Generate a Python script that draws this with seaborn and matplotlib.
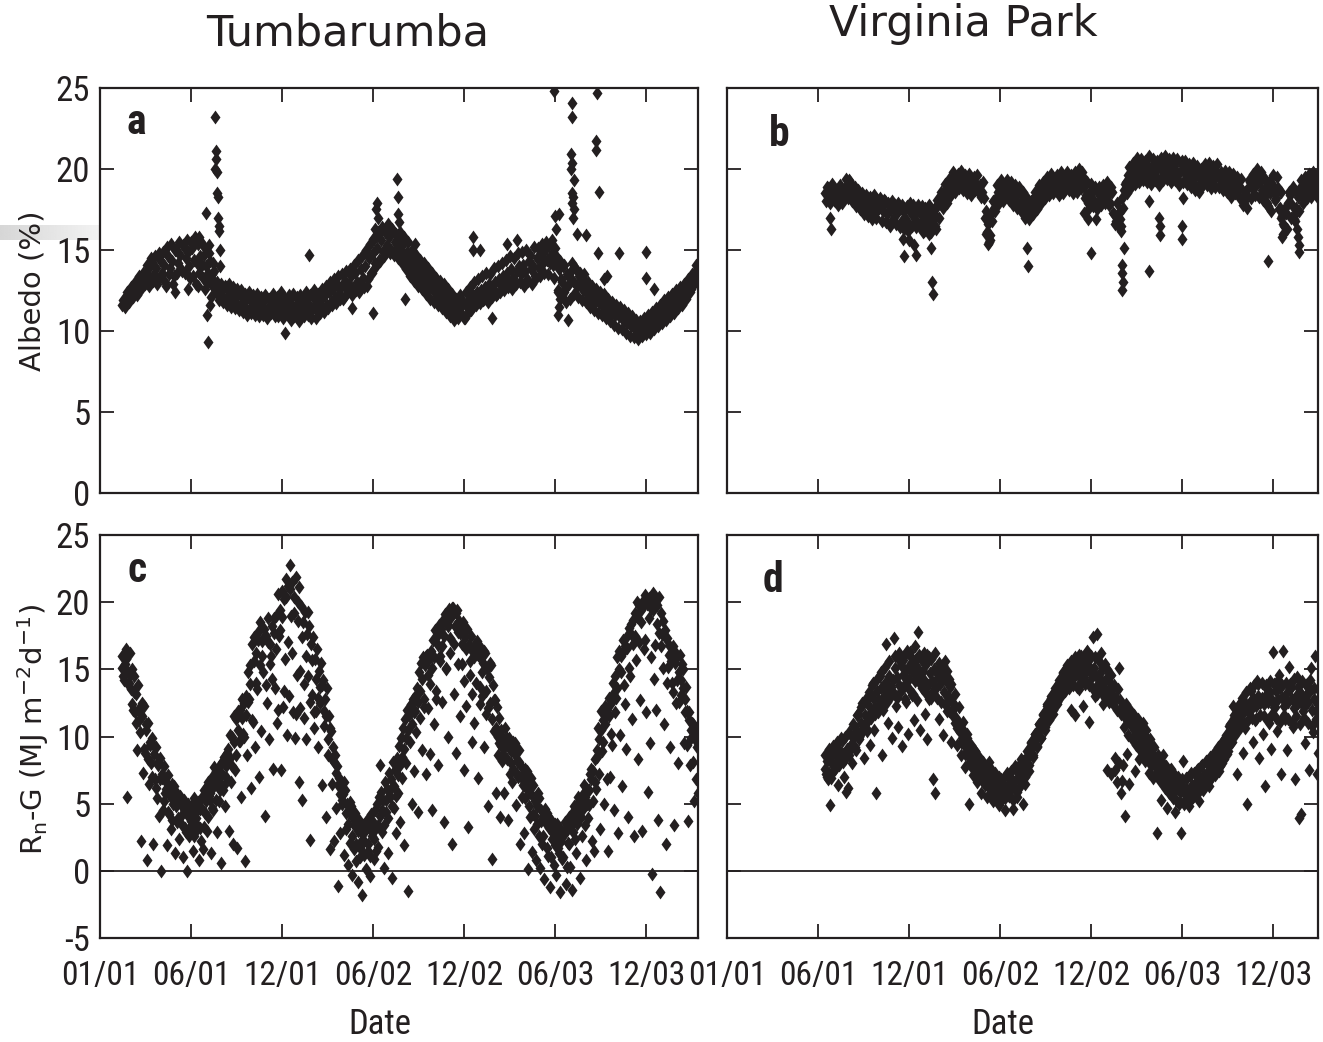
import numpy as np
import pandas as pd
import matplotlib
matplotlib.use("Agg")
import matplotlib.pyplot as plt
import seaborn as sns
from matplotlib import font_manager
from matplotlib.path import Path
from matplotlib.markers import MarkerStyle
from matplotlib.ticker import FixedLocator, FixedFormatter

# ---------------- data (days since 01/01/2001) ----------------
TICK_DAYS = [0, 182.5, 365, 547.5, 730, 912.5, 1095]
TICK_LABELS = ["01/01", "06/01", "12/01", "06/02", "12/02", "06/03", "12/03"]

# Panel a: Tumbarumba albedo (%), every 4 days from day 44, and a second reading offset by 2 days
a_start, a_step = 44, 4
a_band = [
    11.6, 11.9, 11.7, 12.3, 12.0, 12.6, 12.4, 12.9, 12.5, 13.1,
    12.8, 13.4, 13.0, 13.8, 13.3, 14.2, 13.5, 13.9, 13.2, 14.4,
    13.6, 14.1, 12.8, 14.6, 13.9, 14.3, 13.4, 15.0, 14.2, 14.7,
    13.7, 15.2, 14.5, 14.9, 13.3, 15.1, 14.4, 12.9, 15.4, 14.6,
    14.1, 14.7, 14.0, 13.6, 14.3, 13.2, 13.7, 12.4, 12.8, 12.1,
    12.5, 11.9, 12.7, 12.2, 11.8, 12.4, 12.0, 11.7, 12.3, 11.6,
    12.1, 11.5, 11.9, 12.2, 11.4, 11.8, 11.3, 12.0, 11.6, 11.2,
    11.7, 11.4, 12.1, 11.1, 11.6, 11.9, 11.3, 11.5, 10.9, 11.8,
    11.4, 11.0, 11.7, 11.2, 11.9, 11.5, 10.9, 11.6, 11.3, 11.8,
    11.1, 11.5, 12.0, 11.2, 11.6, 10.8, 11.4, 11.9, 11.3, 11.7,
    11.9, 11.4, 12.2, 11.6, 12.4, 11.8, 12.6, 12.1, 12.9, 12.3,
    12.7, 12.0, 13.1, 12.5, 12.9, 13.4, 12.6, 13.6, 13.0, 12.4,
    13.8, 13.3, 14.0, 12.8, 14.5, 13.6, 14.8, 14.2, 15.1, 14.4,
    15.6, 14.9, 16.1, 15.3, 15.8, 15.0, 16.2, 15.5, 15.2, 15.7,
    15.0, 15.4, 14.6, 14.9, 14.2, 14.7, 13.9, 14.3, 13.6, 13.9,
    13.3, 13.7, 12.9, 13.4, 12.7, 13.1, 12.5, 12.9, 12.2, 12.6,
    12.0, 12.4, 11.7, 12.1, 11.5, 11.9, 11.2, 11.6, 10.9, 11.4,
    11.1, 11.7, 10.8, 11.5, 11.9, 11.3, 12.2, 11.8, 12.4, 12.0,
    12.5, 11.9, 12.7, 12.2, 12.9, 12.4, 12.6, 13.0, 12.3, 13.2,
    12.8, 13.4, 13.0, 13.6, 13.1, 13.8, 13.3, 12.9, 13.7, 14.0,
    13.5, 14.1, 13.7, 13.2, 14.3, 13.8, 14.0, 13.4, 14.5, 13.9,
    14.6, 14.2, 15.0, 14.4, 15.3, 14.7, 14.1, 15.1, 14.5, 13.8,
    13.2, 14.0, 12.6, 13.5, 12.9, 13.7, 13.1, 13.9, 12.8, 13.4,
    12.9, 12.5, 13.1, 12.3, 12.7, 12.0, 12.4, 11.8, 12.2, 11.7,
    12.0, 11.5, 11.9, 11.3, 11.7, 11.1, 11.5, 11.0, 11.4, 10.9,
    11.2, 10.7, 11.0, 10.5, 10.9, 10.3, 10.7, 10.1, 10.5, 9.9,
    10.3, 9.8, 10.4, 10.0, 10.6, 10.2, 10.8, 10.4, 11.0, 10.6,
    11.2, 10.8, 11.4, 11.0, 11.6, 11.2, 11.8, 11.5, 12.0, 11.7,
    12.3, 11.9, 12.5, 12.2, 12.8, 12.6, 13.1, 13.5, 13.8,
]
a_start2 = 46
a_band2 = [
    11.9, 11.5, 12.4, 11.8, 12.7, 12.1, 13.0, 12.2, 13.4, 12.6,
    13.6, 12.9, 14.1, 12.8, 14.5, 13.1, 14.6, 12.9, 14.8, 13.4,
    14.9, 13.0, 15.2, 13.5, 15.4, 12.9, 15.0, 13.6, 15.5, 13.8,
    15.3, 13.6, 15.6, 14.0, 15.5, 13.4, 15.8, 14.2, 13.6, 15.5,
    13.3, 15.1, 13.0, 14.8, 12.9, 14.2, 12.6, 13.0, 11.9, 12.9,
    11.8, 12.8, 11.6, 12.9, 11.5, 12.7, 11.4, 12.6, 11.3, 12.5,
    11.2, 12.3, 11.0, 12.4, 11.1, 12.2, 11.0, 12.3, 10.9, 12.1,
    11.0, 12.2, 10.8, 12.0, 11.1, 12.3, 10.9, 12.1, 11.2, 12.4,
    10.8, 12.0, 11.1, 12.2, 10.7, 12.3, 11.0, 12.1, 10.6, 12.2,
    11.9, 10.9, 12.4, 11.0, 12.2, 11.3, 12.5, 10.8, 12.3, 11.1,
    12.6, 11.2, 12.8, 11.4, 13.0, 11.6, 13.2, 11.7, 13.4, 12.0,
    13.5, 12.1, 13.7, 12.4, 13.8, 12.2, 14.1, 12.5, 14.4, 12.9,
    14.6, 12.7, 15.0, 13.2, 15.4, 13.6, 15.7, 14.0, 16.1, 14.3,
    16.4, 14.6, 15.2, 16.6, 14.8, 16.3, 14.7, 16.0, 14.5, 16.1,
    14.2, 15.8, 13.8, 15.5, 13.4, 15.0, 13.1, 14.7, 12.8, 14.4,
    12.6, 14.2, 12.3, 13.9, 12.0, 13.6, 11.8, 13.3, 11.6, 13.1,
    11.4, 12.9, 11.2, 12.6, 10.9, 12.3, 10.7, 12.0, 10.8, 12.2,
    11.9, 10.8, 12.4, 11.1, 12.7, 11.4, 13.0, 11.6, 13.2, 11.7,
    13.4, 12.0, 13.6, 11.8, 13.5, 12.1, 13.9, 12.2, 14.0, 12.4,
    14.2, 12.5, 14.4, 12.7, 14.6, 12.6, 14.5, 12.9, 14.8, 13.0,
    14.9, 12.8, 15.0, 13.1, 14.7, 12.9, 15.2, 13.3, 15.1, 13.4,
    15.4, 13.6, 15.5, 13.5, 14.2, 15.6, 13.3, 14.6, 12.4, 14.3,
    12.2, 14.1, 11.8, 13.4, 12.0, 14.2, 12.3, 13.8, 12.1, 13.6,
    11.9, 13.5, 11.8, 13.0, 11.5, 12.8, 11.3, 12.6, 11.1, 12.4,
    11.0, 12.3, 10.8, 12.0, 10.6, 11.8, 10.4, 11.6, 10.2, 11.5,
    10.1, 11.3, 9.9, 11.1, 9.7, 10.9, 9.6, 10.7, 9.5, 10.6,
    9.7, 10.8, 9.8, 11.0, 9.9, 11.2, 10.1, 11.4, 10.3, 11.6,
    10.5, 11.9, 10.7, 12.1, 10.9, 12.3, 11.1, 12.5, 11.4, 12.7,
    11.6, 12.9, 12.0, 13.2, 12.4, 13.5, 12.9, 14.1,
]
a_out_days = [212, 214, 216, 218, 210, 220, 222, 224, 230, 232, 232, 230, 234, 234,
              236, 236, 238, 238, 240, 240, 198, 186, 176, 196, 150,
              371, 419, 505, 547, 556, 552, 560, 548, 596, 598, 598, 600, 612, 632,
              554, 558, 748, 762, 748, 786, 816, 836,
              910, 912, 920, 914, 946, 946, 944, 946, 944, 950, 946, 948, 946, 950,
              948, 956, 996, 994, 994, 1000, 918, 922, 920, 918, 938, 930, 926, 975,
              999, 1040, 1094, 1094, 1110, 1010, 1016, 1147]
a_out_vals = [17.3, 11.0, 9.3, 15.3, 12.6, 11.6, 12.1, 13.5, 23.2, 21.1, 20.6, 20.0, 19.8, 18.5,
              18.3, 17.0, 16.5, 16.2, 15.0, 14.0, 15.8, 15.5, 12.6, 12.8, 12.4,
              9.9, 14.7, 11.4, 11.1, 17.9, 16.3, 16.0, 15.7, 19.4, 18.3, 17.2, 16.7, 12.0, 15.4,
              17.5, 17.0, 15.8, 15.0, 15.0, 10.8, 15.4, 15.6,
              24.8, 17.1, 17.2, 16.3, 24.1, 23.2, 20.9, 20.4, 20.0, 19.3, 18.5, 18.3, 17.9, 17.5,
              17.0, 16.0, 24.7, 21.7, 21.2, 18.6, 12.5, 12.0, 11.5, 11.0, 10.7, 12.4, 13.0, 15.9,
              14.8, 14.8, 14.9, 13.3, 12.6, 13.2, 13.4, 12.2]

# Panel b: Virginia Park albedo (%), every 4 days from day 196, and a second reading offset by 2 days
b_start, b_step = 196, 4
b_band = [
    18.5, 18.9, 18.2, 18.7, 18.4, 18.0, 18.6, 18.3, 18.8, 18.1,
    18.5, 19.0, 19.3, 18.7, 18.4, 18.9, 18.2, 18.6, 17.9, 18.3,
    17.7, 18.2, 17.5, 18.0, 17.8, 17.3, 18.1, 17.6, 17.9, 17.4,
    18.0, 17.2, 17.7, 17.5, 16.9, 17.8, 17.3, 17.6, 16.7, 17.4,
    17.0, 17.7, 16.6, 17.3, 17.8, 16.9, 17.4, 16.5, 17.2, 17.6,
    16.8, 17.3, 16.4, 17.0, 16.7, 17.5, 17.1, 17.8, 18.0, 18.4,
    18.1, 18.7, 18.3, 19.0, 18.6, 19.3, 18.9, 19.7, 19.2, 19.5,
    19.0, 19.4, 18.8, 19.2, 18.9, 19.5, 19.1, 18.7, 19.0, 18.6,
    18.2, 17.4, 16.6, 15.9, 16.8, 17.6, 18.2, 18.6, 18.9, 18.4,
    18.8, 19.1, 18.5, 18.9, 18.3, 18.7, 18.0, 18.5, 17.8, 18.1,
    17.6, 17.3, 17.9, 17.4, 17.8, 18.2, 17.9, 18.5, 18.3, 18.8,
    18.6, 19.1, 18.8, 19.2, 18.9, 19.4, 19.1, 18.8, 19.3, 19.0,
    19.4, 19.1, 19.5, 19.2, 18.9, 19.3, 19.0, 19.6, 19.3, 19.8,
    18.9, 18.4, 17.9, 18.6, 18.2, 18.8, 17.8, 18.5, 18.1, 18.7,
    18.3, 18.9, 18.4, 17.9, 18.6, 17.2, 16.8, 16.5, 17.4, 18.2,
    18.7, 19.2, 19.6, 19.3, 20.0, 19.5, 20.3, 19.8, 19.4, 20.1,
    19.7, 20.4, 19.9, 19.5, 20.2, 19.6, 19.9, 20.3, 19.4, 20.0,
    19.7, 20.4, 19.8, 20.1, 19.5, 20.2, 19.9, 19.3, 19.8, 20.5,
    20.0, 19.6, 20.2, 19.4, 19.9, 19.1, 19.6, 18.9, 19.4, 19.9,
    19.5, 20.1, 19.6, 19.2, 19.8, 19.4, 19.9, 19.5, 19.0, 19.7,
    19.3, 19.7, 19.0, 19.5, 18.8, 19.3, 19.1, 18.7, 18.9, 18.2,
    17.9, 18.4, 18.8, 19.2, 18.9, 19.5, 19.0, 19.6, 19.2, 18.7,
    18.3, 18.9, 17.7, 18.5, 19.1, 18.6, 18.2, 18.8, 17.6, 17.1,
    16.5, 17.3, 17.9, 18.4, 17.8, 16.9, 17.6, 18.3, 18.8, 18.4,
    19.0, 18.6, 19.3, 18.8, 19.4, 18.9, 19.2, 18.7, 19.1,
]
b_start2 = 198
b_band2 = [
    18.0, 18.8, 17.9, 19.1, 18.1, 18.7, 17.8, 19.0, 17.9, 18.6,
    19.4, 18.2, 19.2, 18.0, 18.8, 17.7, 18.7, 17.5, 18.5, 17.2,
    18.4, 17.1, 18.3, 16.9, 18.4, 17.0, 17.6, 18.2, 16.8, 18.1,
    16.7, 17.9, 16.5, 18.0, 17.6, 16.6, 17.9, 16.4, 17.8, 16.3,
    17.6, 16.2, 17.9, 16.5, 17.2, 16.4, 17.8, 16.6, 17.7, 16.2,
    17.6, 16.3, 17.8, 16.1, 17.4, 16.5, 18.1, 17.0, 18.6, 17.6,
    19.1, 17.9, 19.4, 18.4, 19.8, 18.6, 19.5, 18.8, 19.9, 18.7,
    19.6, 18.5, 19.7, 18.4, 19.3, 18.7, 19.6, 18.5, 18.3, 19.2,
    17.0, 16.1, 15.5, 17.2, 18.0, 17.4, 19.0, 17.9, 19.3, 18.0,
    18.3, 19.3, 18.1, 19.2, 17.8, 19.0, 17.6, 18.9, 17.4, 18.6,
    17.0, 18.2, 16.9, 18.0, 17.2, 18.6, 17.5, 19.0, 17.9, 19.2,
    18.2, 19.5, 18.4, 19.7, 18.5, 18.7, 19.6, 18.4, 19.8, 18.5,
    18.8, 19.8, 18.7, 19.6, 18.5, 19.8, 18.6, 20.0, 18.8, 19.5,
    18.2, 19.2, 17.6, 19.1, 17.7, 18.9, 17.5, 18.9, 17.8, 19.0,
    17.9, 19.2, 17.8, 18.9, 17.3, 16.6, 17.9, 17.3, 16.2, 17.6,
    19.1, 18.5, 20.1, 18.9, 20.4, 19.1, 20.7, 19.2, 20.6, 19.3,
    20.5, 19.2, 20.8, 19.1, 20.6, 19.3, 20.5, 19.0, 20.7, 19.3,
    20.8, 19.4, 20.6, 19.2, 20.7, 19.3, 20.6, 19.0, 20.4, 19.2,
    20.5, 19.1, 20.3, 18.9, 20.4, 18.7, 20.2, 18.6, 20.0, 19.0,
    20.3, 19.0, 20.4, 18.8, 20.2, 18.9, 20.3, 18.9, 19.8, 18.7,
    19.9, 18.6, 19.8, 18.3, 19.7, 18.5, 19.5, 18.3, 19.4, 17.8,
    18.6, 17.6, 19.3, 18.2, 19.7, 18.4, 20.0, 18.3, 19.8, 18.1,
    19.4, 17.9, 19.2, 17.4, 19.6, 18.1, 19.5, 17.5, 18.6, 16.6,
    17.6, 16.3, 18.6, 17.0, 18.9, 16.8, 18.5, 17.4, 19.3, 17.9,
    19.5, 18.2, 19.7, 18.3, 19.8, 18.5, 19.6, 18.2,
]
b_out_days = [206, 208, 352, 354, 364, 374, 378, 406, 410, 412, 414, 400, 392, 420,
              520, 524, 528, 602, 604, 716, 724, 740, 730, 790, 796, 792, 792, 794, 792,
              788, 846, 846, 866, 868, 868, 912, 912, 914, 1036, 1084, 1082, 1110, 1114,
              1112, 1142, 1144, 1146, 1146, 1138]
b_out_vals = [17.0, 16.3, 15.7, 14.6, 15.6, 15.3, 14.7, 16.0, 15.1, 13.0, 12.3, 16.4, 16.1, 16.3,
              16.0, 15.4, 15.6, 15.1, 14.0, 17.3, 16.9, 16.9, 14.8, 16.5, 15.1, 14.1, 13.6, 13.0, 12.5,
              16.9, 18.0, 13.7, 17.0, 16.5, 15.9, 16.5, 15.7, 18.2, 18.0, 14.3, 17.8, 17.0, 16.0,
              15.8, 16.3, 15.8, 15.3, 14.9, 17.2]

# Panel c: Tumbarumba Rn-G (MJ m-2 d-1), three interleaved readings
c_start, c_step = 44, 4
c_upper = [
    16.0, 15.2, 15.8, 14.8, 16.2, 15.0, 14.5, 13.2, 13.8, 12.1,
    11.5, 12.3, 10.5, 11.0, 9.4, 9.9, 8.7, 9.2, 7.9, 8.4,
    7.2, 7.8, 6.6, 7.1, 6.0, 6.5, 5.6, 5.9, 5.2, 5.5,
    4.8, 5.3, 4.5, 5.0, 4.2, 4.9, 5.4, 4.4, 5.1, 4.6,
    5.5, 6.0, 5.2, 6.6, 5.8, 7.0, 6.3, 7.4, 6.7, 7.9,
    7.2, 8.5, 7.8, 9.1, 8.4, 10.0, 9.6, 11.3, 10.5, 12.0,
    11.4, 12.5, 13.0, 14.8, 15.3, 16.9, 17.4, 16.2, 17.8, 18.5,
    17.1, 18.0, 17.5, 18.8, 16.9, 18.2, 17.7, 19.0, 20.6, 19.4,
    20.8, 20.2, 21.7, 21.2, 22.8, 21.5, 20.4, 21.9, 20.0, 21.1,
    19.7, 18.5, 19.3, 17.6, 18.2, 16.9, 17.4, 15.8, 16.5, 14.9,
    15.5, 14.2, 12.8, 13.6, 11.5, 10.4, 9.2, 8.6, 7.8, 6.9,
    6.3, 5.7, 6.0, 5.0, 4.4, 4.8, 3.9, 4.3, 3.5, 3.8,
    2.9, 3.4, 3.0, 3.8, 3.3, 4.2, 3.6, 4.5, 5.0, 5.5,
    5.9, 5.3, 6.6, 6.1, 7.3, 6.8, 8.1, 7.5, 8.4, 9.3,
    9.9, 10.6, 11.3, 12.0, 11.6, 12.4, 12.8, 11.9, 13.6, 14.8,
    15.5, 15.9, 15.3, 16.1, 15.8, 16.4, 17.2, 17.9, 17.5, 18.3,
    18.0, 18.7, 19.1, 18.4, 19.5, 18.9, 19.6, 18.2, 19.4, 18.6,
    17.9, 18.5, 17.4, 18.0, 16.8, 17.5, 16.3, 16.9, 17.1, 16.0,
    16.6, 15.5, 16.2, 15.0, 14.4, 15.3, 13.8, 12.7, 12.2, 11.4,
    10.5, 9.9, 9.4, 9.9, 9.2, 8.9, 9.6, 8.7, 8.2, 9.0,
    7.8, 7.2, 7.6, 6.8, 6.1, 5.7, 6.4, 5.2, 4.8, 5.4,
    4.5, 4.1, 3.6, 4.3, 3.2, 3.8, 2.9, 3.5, 2.6, 3.3,
    3.0, 2.7, 3.6, 3.2, 4.0, 3.5, 4.4, 3.9, 4.8, 4.3,
    5.1, 4.6, 5.5, 5.0, 6.0, 6.8, 7.4, 8.3, 9.0, 9.8,
    10.5, 11.2, 12.3, 12.0, 11.5, 12.5, 13.2, 14.5, 15.9, 16.4,
    16.0, 17.2, 16.7, 17.5, 18.1, 17.6, 18.7, 19.2, 18.9, 19.8,
    19.4, 20.1, 20.5, 19.9, 20.3, 19.6, 20.7, 20.0, 19.8, 20.4,
    19.2, 18.6, 17.9, 17.3, 16.8, 16.2, 16.7, 15.5, 15.9, 14.8,
    14.2, 13.6, 12.8, 11.9, 11.2, 10.5, 10.9, 10.1, 9.6,
]
c_mid_start = 45
c_mid = [
    15.1, 14.2, 16.5, 13.9, 14.6, 12.4, 13.3, 11.0, 12.0, 10.3,
    12.5, 9.1, 10.9, 8.3, 9.6, 7.0, 9.3, 6.2, 8.1, 6.8,
    6.9, 5.2, 6.1, 4.4, 5.6, 3.8, 6.3, 4.8, 3.9, 5.6,
    3.4, 4.6, 2.9, 4.1, 3.3, 4.4, 2.6, 3.9, 4.8, 3.2,
    4.6, 3.3, 6.2, 4.0, 5.3, 4.7, 7.7, 5.3, 7.1, 6.0,
    8.1, 6.4, 7.0, 8.3, 10.1, 7.8, 11.5, 8.6, 11.9, 9.7,
    12.8, 10.0, 11.6, 12.6, 13.9, 11.2, 15.6, 14.0, 17.2, 15.3,
    16.0, 17.4, 13.8, 17.0, 15.4, 14.3, 18.8, 16.5, 12.0, 17.9,
    18.9, 13.4, 20.4, 17.0, 21.0, 16.2, 19.2, 11.7, 18.6, 14.9,
    17.4, 13.9, 16.0, 19.3, 12.6, 15.7, 11.8, 14.3, 12.9, 13.7,
    13.8, 11.9, 11.5, 9.8, 10.6, 8.3, 8.1, 7.3, 6.4, 5.7,
    5.0, 6.6, 4.3, 3.5, 5.1, 2.6, 3.4, 2.0, 3.0, 1.7,
    2.3, 1.2, 3.6, 2.0, 1.1, 2.9, 2.4, 1.5, 3.4, 4.1,
    4.5, 3.4, 5.3, 3.9, 6.0, 4.8, 6.3, 5.6, 7.1, 7.9,
    8.5, 9.1, 9.9, 10.5, 12.2, 10.9, 11.8, 13.1, 12.6, 13.4,
    14.3, 12.2, 16.0, 14.6, 13.9, 15.1, 15.9, 12.8, 16.8, 16.0,
    16.7, 17.5, 15.1, 18.2, 17.3, 19.6, 16.9, 19.2, 15.4, 17.7,
    16.9, 14.1, 16.5, 16.7, 15.6, 13.2, 15.9, 14.0, 16.1, 13.7,
    14.8, 16.4, 13.4, 12.1, 15.5, 11.3, 12.7, 10.6, 10.0, 9.5,
    9.3, 8.7, 10.6, 8.3, 9.9, 8.0, 7.6, 9.5, 7.2, 8.1,
    7.0, 6.4, 5.4, 7.4, 4.8, 6.9, 4.2, 4.1, 3.5, 2.6,
    3.7, 2.6, 4.6, 1.7, 3.9, 1.0, 2.8, 1.9, 3.5, 1.3,
    2.2, 1.0, 2.8, 0.3, 2.0, 3.4, 2.9, 2.4, 3.5, 5.2,
    4.0, 5.7, 3.4, 6.1, 4.9, 7.6, 5.2, 6.6, 8.5, 7.2,
    11.9, 9.6, 10.9, 6.8, 12.9, 10.2, 14.0, 11.8, 13.6, 15.0,
    14.8, 16.3, 12.4, 16.6, 15.1, 18.4, 16.9, 17.5, 20.0, 17.0,
    18.5, 19.7, 17.2, 20.2, 18.8, 15.9, 19.4, 16.8, 18.4, 17.7,
    16.7, 15.1, 17.4, 14.0, 16.1, 15.6, 13.3, 16.3, 14.2, 12.6,
    13.1, 15.0, 11.8, 9.4, 11.8, 9.9, 8.1, 10.4, 9.2,
]
c_lower_start = 46
c_lower = [
    14.5, 15.4, 5.5, 14.0, 13.5, 12.0, 11.8, 9.0, 11.2, 2.2,
    7.3, 8.8, 0.8, 6.5, 8.0, 2.0, 6.8, 5.4, 4.1, 0.0,
    4.5, 5.8, 1.9, 4.2, 3.1, 5.0, 1.3, 3.6, 2.4, 4.1,
    1.0, 3.2, 0.0, 2.6, 3.7, 1.5, 2.9, 3.4, 0.8, 2.2,
    1.6, 4.3, 3.0, 5.6, 1.3, 4.5, 7.2, 2.9, 5.2, 0.6,
    6.0, 4.8, 8.8, 3.0, 6.6, 2.0, 7.5, 1.7, 9.7, 5.5,
    10.2, 0.7, 8.6, 12.8, 6.2, 11.1, 9.2, 13.5, 7.0, 10.4,
    14.8, 4.1, 12.5, 9.8, 16.0, 7.6, 13.6, 11.0, 17.5, 7.5,
    12.2, 15.8, 10.1, 13.0, 19.0, 11.8, 9.9, 14.6, 6.6, 12.1,
    5.3, 11.4, 9.8, 14.5, 2.3, 13.1, 10.6, 11.9, 9.2, 12.5,
    6.4, 10.8, 4.0, 8.6, 1.6, 6.5, 2.2, 4.7, -1.1, 2.8,
    5.3, 1.2, 3.1, 0.4, 2.1, -0.3, 1.6, 0.7, -0.8, 1.0,
    -1.8, 2.2, 0.1, 1.5, -0.4, 2.6, 0.9, 3.2, 1.8, 7.9,
    2.9, 0.2, 4.4, 1.3, 5.5, -0.5, 4.7, 2.8, 5.8, 3.6,
    6.9, 1.9, 8.0, -1.5, 9.6, 5.0, 7.4, 10.3, 4.4, 11.4,
    9.0, 12.8, 7.2, 12.1, 8.7, 4.5, 10.9, 13.4, 7.9, 15.6,
    12.6, 3.6, 15.0, 10.0, 16.2, 2.0, 13.2, 8.8, 17.8, 11.5,
    15.4, 7.5, 12.3, 3.3, 14.6, 9.6, 11.0, 16.5, 6.9, 12.4,
    13.0, 9.2, 11.7, 4.8, 12.5, 0.9, 10.4, 5.8, 8.6, 4.0,
    8.2, 5.8, 9.4, 3.8, 7.2, 6.6, 8.8, 4.9, 7.0, 2.0,
    5.5, 2.8, 6.2, 0.1, 4.0, 1.4, 3.1, 0.8, 5.8, 0.2,
    2.0, -0.6, 3.6, 1.1, -1.2, 2.4, 0.4, -0.3, 1.7, -1.6,
    0.9, 3.0, -1.0, 2.1, 0.3, -1.4, 4.8, 1.3, 5.5, -0.5,
    2.6, 6.4, 0.8, 3.9, 7.2, 2.2, 1.5, 6.1, 10.6, 3.1,
    8.9, 5.0, 11.6, 1.5, 7.0, 9.4, 4.5, 12.9, 2.8, 10.1,
    6.3, 13.8, 9.1, 4.0, 14.5, 11.3, 2.6, 15.7, 8.3, 12.7,
    3.0, 16.5, 11.8, 5.9, 9.5, -0.2, 14.3, 12.0, 3.8, -1.6,
    17.6, 10.9, 2.0, 15.2, 9.2, 14.0, 3.4, 12.5, 8.0, 16.1,
    15.4, 9.5, 13.7, 3.7, 7.9, 11.0, 5.2, 6.8, 5.8,
]

# Panel d: Virginia Park Rn-G (MJ m-2 d-1), three interleaved readings
d_start, d_step = 196, 4
d_main = [
    7.6, 8.2, 7.3, 8.5, 7.9, 8.8, 8.1, 9.0, 8.4, 8.7,
    8.3, 9.1, 8.6, 9.4, 9.9, 9.2, 10.4, 9.8, 11.0, 10.5,
    11.6, 11.1, 12.3, 11.8, 12.9, 12.2, 13.4, 12.7, 13.6, 12.9,
    14.0, 13.3, 14.5, 13.7, 14.2, 15.1, 14.4, 13.8, 15.3, 14.6,
    13.9, 15.0, 14.3, 15.5, 14.8, 14.1, 15.2, 14.6, 15.8, 14.9,
    14.2, 15.4, 13.8, 14.7, 14.1, 15.0, 13.6, 14.4, 13.9, 14.6,
    13.3, 14.1, 13.0, 13.7, 12.6, 12.1, 11.4, 11.0, 10.3, 9.9,
    9.4, 8.8, 9.1, 8.3, 8.7, 7.9, 8.2, 7.5, 7.8, 7.1,
    7.4, 6.9, 7.2, 6.6, 6.9, 6.3, 6.7, 6.1, 6.5, 6.0,
    6.4, 5.9, 6.3, 6.8, 6.2, 6.6, 6.0, 6.9, 7.3, 7.0,
    7.6, 8.1, 8.6, 8.9, 9.3, 9.7, 10.0, 10.4, 10.8, 11.1,
    11.4, 11.8, 12.1, 12.3, 12.7, 13.0, 13.2, 13.6, 13.9, 14.1,
    14.3, 14.0, 14.6, 14.2, 14.8, 14.4, 15.0, 14.6, 15.2, 14.7,
    15.3, 14.8, 15.6, 14.9, 14.4, 15.1, 14.5, 13.9, 14.7, 14.1,
    13.6, 14.3, 13.4, 14.0, 13.2, 13.8, 12.9, 13.5, 12.7, 12.2,
    11.8, 11.3, 11.6, 10.9, 11.2, 10.5, 10.8, 10.1, 10.4, 9.7,
    10.0, 9.3, 9.6, 8.9, 9.2, 8.5, 8.0, 7.6, 7.2, 7.5,
    6.9, 7.3, 6.6, 7.0, 6.3, 6.7, 6.1, 6.5, 5.9, 6.3,
    5.8, 6.2, 5.6, 6.1, 6.4, 5.9, 6.6, 6.2, 6.9, 6.5,
    7.1, 6.8, 7.4, 7.0, 7.7, 7.3, 8.0, 7.6, 8.4, 8.0,
    8.8, 9.3, 9.9, 10.4, 10.8, 11.4, 11.1, 11.9, 11.5, 12.2,
    11.8, 12.4, 11.9, 12.6, 12.1, 12.8, 12.3, 13.0, 12.5, 12.9,
    12.4, 13.1, 12.6, 13.3, 12.7, 12.2, 13.4, 12.8, 13.6, 12.9,
    12.3, 13.2, 12.6, 13.5, 12.8, 12.1, 13.0, 12.5, 13.3, 12.7,
    12.2, 13.1, 12.6, 13.4, 12.0, 12.8, 11.9, 12.4,
]
d_extra_start = 197
d_extra = [
    8.6, 7.0, 9.1, 6.9, 9.3, 7.6, 9.6, 7.9, 9.9, 8.1,
    10.0, 8.7, 10.3, 9.4, 10.9, 9.1, 11.6, 10.0, 12.2, 10.8,
    12.7, 10.4, 13.3, 11.4, 14.0, 11.7, 14.3, 12.2, 14.8, 12.0,
    15.2, 12.6, 15.6, 13.0, 13.3, 16.0, 12.9, 16.2, 13.4, 15.7,
    12.8, 16.4, 13.5, 15.9, 13.2, 16.7, 12.7, 16.1, 13.8, 15.6,
    13.3, 16.1, 12.8, 15.8, 13.4, 16.2, 12.9, 15.5, 12.6, 15.3,
    12.4, 14.9, 11.9, 13.9, 11.5, 13.2, 10.6, 12.2, 9.6, 11.1,
    8.7, 10.2, 8.0, 9.4, 7.6, 8.9, 7.1, 8.5, 6.8, 8.1,
    6.5, 7.9, 6.2, 7.6, 5.8, 7.3, 5.6, 7.0, 5.5, 6.8,
    5.4, 7.1, 5.6, 7.4, 5.3, 7.6, 5.9, 7.9, 6.4, 8.2,
    7.0, 8.9, 7.9, 9.6, 8.6, 10.2, 9.3, 10.9, 9.9, 11.7,
    10.5, 12.4, 11.2, 12.9, 11.7, 13.6, 12.4, 14.2, 13.0, 14.8,
    13.4, 15.3, 13.6, 15.6, 13.8, 15.9, 13.7, 16.1, 14.0, 15.8,
    13.9, 16.3, 13.8, 16.0, 13.5, 15.9, 13.2, 15.6, 13.3, 15.2,
    12.9, 15.0, 12.6, 14.6, 12.4, 7.5, 12.0, 8.0, 11.7, 6.7,
    10.7, 12.4, 10.1, 12.0, 9.8, 11.6, 9.4, 11.3, 9.0, 10.8,
    8.7, 10.5, 8.2, 9.8, 7.9, 9.2, 7.3, 8.6, 6.7, 8.1,
    6.4, 7.8, 6.0, 7.5, 5.6, 7.2, 5.3, 7.0, 5.1, 6.8,
    5.0, 6.9, 5.2, 7.1, 5.4, 7.3, 5.7, 7.6, 6.0, 7.9,
    6.3, 8.2, 6.6, 8.5, 7.0, 8.8, 7.3, 9.2, 7.8, 9.6,
    8.3, 10.1, 8.9, 10.9, 9.6, 11.6, 10.3, 12.3, 10.6, 12.9,
    11.0, 13.3, 11.2, 13.6, 11.4, 13.8, 11.3, 13.9, 11.6, 14.0,
    11.5, 13.8, 11.2, 14.1, 11.7, 13.9, 11.4, 14.2, 11.1, 13.8,
    11.6, 14.0, 11.3, 13.9, 11.0, 14.3, 11.5, 13.7, 10.9, 14.1,
    11.4, 13.8, 11.0, 14.2, 10.8, 13.6, 11.3, 13.5,
]
d_scatter_start = 198
d_scatter = [
    7.2, 6.8, 4.9, 8.0, 7.5, 9.4, 6.4, 8.6, 9.7, 7.0,
    5.9, 6.2, 9.1, 8.0, 10.8, 9.0, 11.7, 10.1, 12.5, 8.4,
    10.6, 12.9, 9.4, 13.8, 10.5, 5.8, 11.8, 14.5, 8.6, 12.4,
    16.9, 11.0, 13.0, 9.9, 17.3, 12.3, 10.7, 15.6, 9.3, 16.0,
    12.6, 10.2, 16.3, 13.1, 11.2, 15.8, 17.8, 10.5, 13.6, 16.2,
    11.7, 9.8, 15.9, 12.9, 6.8, 5.8, 14.8, 11.3, 15.2, 10.1,
    15.6, 11.9, 14.3, 9.6, 12.5, 11.0, 9.4, 10.9, 8.6, 10.5,
    7.7, 9.9, 5.0, 8.0, 7.1, 8.9, 6.6, 7.9, 5.8, 7.7,
    6.4, 5.5, 8.1, 6.0, 5.2, 7.0, 5.7, 4.9, 6.8, 5.4,
    4.5, 7.3, 5.6, 6.9, 4.6, 7.8, 5.5, 7.0, 8.3, 5.0,
    6.5, 8.4, 7.4, 9.5, 8.5, 10.2, 9.2, 10.9, 9.9, 11.6,
    10.7, 12.3, 11.4, 13.0, 12.0, 13.4, 12.6, 14.0, 13.1, 14.7,
    13.6, 15.2, 13.9, 12.0, 14.9, 11.6, 15.4, 13.5, 16.0, 12.3,
    14.2, 16.4, 11.1, 15.0, 17.4, 13.0, 17.6, 14.3, 16.2, 12.4,
    15.4, 7.5, 14.7, 7.2, 13.6, 8.4, 6.6, 15.1, 5.8, 7.9,
    4.1, 8.7, 6.5, 11.2, 9.9, 7.4, 10.6, 8.3, 9.5, 11.0,
    8.2, 9.9, 7.3, 8.8, 6.9, 8.1, 2.8, 7.0, 5.3, 8.6,
    6.2, 4.7, 5.8, 7.6, 5.4, 4.4, 6.9, 5.0, 2.8, 8.2,
    5.3, 6.9, 4.8, 7.3, 5.5, 6.0, 7.5, 5.2, 7.8, 6.0,
    6.6, 8.2, 6.3, 7.9, 8.6, 7.1, 8.9, 7.4, 9.3, 8.6,
    9.9, 8.7, 10.8, 9.5, 12.3, 10.1, 7.2, 11.0, 12.6, 8.8,
    10.6, 5.0, 12.0, 13.4, 9.6, 11.2, 14.1, 8.4, 12.7, 10.2,
    6.3, 13.5, 11.0, 9.1, 16.3, 12.2, 10.4, 14.6, 7.2, 16.4,
    11.3, 9.0, 15.2, 13.7, 10.7, 6.8, 14.4, 3.9, 4.2, 11.9,
    9.5, 13.9, 7.5, 15.1, 10.3, 16.0, 7.2, 8.8,
]


def regular(start, step, values):
    return pd.DataFrame({"day": start + step * np.arange(len(values)), "value": values})


def irregular(days, values):
    return pd.DataFrame({"day": days, "value": values})


df_a = pd.concat([regular(a_start, a_step, a_band), regular(a_start2, a_step, a_band2),
                  irregular(a_out_days, a_out_vals)])
df_b = pd.concat([regular(b_start, b_step, b_band), regular(b_start2, b_step, b_band2),
                  irregular(b_out_days, b_out_vals)])
df_c = pd.concat([regular(c_start, c_step, c_upper), regular(c_mid_start, c_step, c_mid),
                  regular(c_lower_start, c_step, c_lower)])
df_d = pd.concat([regular(d_start, d_step, d_main), regular(d_extra_start, d_step, d_extra),
                  regular(d_scatter_start, d_step, d_scatter)])

# ---------------- style ----------------
sns.set_theme(style="ticks")


def pick_condensed():
    entries = font_manager.fontManager.ttflist
    names = {e.name for e in entries}
    for name in ["Liberation Sans Narrow", "Roboto Condensed", "Open Sans Condensed",
                 "Noto Sans Condensed", "DejaVu Sans Condensed"]:
        if name in names:
            return name, "normal"
    for name in ["Noto Sans", "DejaVu Sans", "Open Sans", "Roboto"]:
        for st in ["condensed", "semi-condensed", "extra-condensed"]:
            if any(e.name == name and str(e.stretch) == st for e in entries):
                return name, st
    return "DejaVu Sans", "normal"


NARROW, STRETCH = pick_condensed()
plt.rcParams["font.family"] = [NARROW, "DejaVu Sans"]
plt.rcParams["font.stretch"] = STRETCH
plt.rcParams["axes.unicode_minus"] = False
plt.rcParams["mathtext.fontset"] = "dejavusans"

INK = "#231f20"
DIAMOND = MarkerStyle(Path([(0, 1), (0.72, 0), (0, -1), (-0.72, 0), (0, 1)],
                           [Path.MOVETO, Path.LINETO, Path.LINETO, Path.LINETO, Path.CLOSEPOLY]))

W, H = 1323, 1042
fig = plt.figure(figsize=(W / 100, H / 100), dpi=100)
fig.patch.set_facecolor("white")


def ax_rect(x0, y0, x1, y1):
    return [x0 / W, 1 - y1 / H, (x1 - x0) / W, (y1 - y0) / H]


ax_a = fig.add_axes(ax_rect(100, 88, 698, 493))
ax_b = fig.add_axes(ax_rect(727, 88, 1318, 493))
ax_c = fig.add_axes(ax_rect(100, 535, 698, 938))
ax_d = fig.add_axes(ax_rect(727, 535, 1318, 938))

panels = [(ax_a, df_a, "a", 1199, (0.06, 0.915)),
          (ax_b, df_b, "b", 1185, (0.088, 0.886)),
          (ax_c, df_c, "c", 1199, (0.062, 0.911)),
          (ax_d, df_d, "d", 1185, (0.078, 0.886))]

for ax, df, letter, xmax, lpos in panels:
    ax.set_facecolor("white")
    sns.scatterplot(data=df, x="day", y="value", ax=ax, marker=DIAMOND, s=100,
                    color=INK, linewidth=0, legend=False, zorder=3)
    ax.set_xlim(0, xmax)
    ax.xaxis.set_major_locator(FixedLocator(TICK_DAYS))
    ax.xaxis.set_major_formatter(FixedFormatter(TICK_LABELS))
    ax.set_xlabel("")
    ax.set_ylabel("")
    for sp in ax.spines.values():
        sp.set_visible(True)
        sp.set_linewidth(1.6)
        sp.set_color(INK)
    ax.tick_params(which="both", direction="in", length=10, width=1.3, color=INK,
                   top=True, right=True, labelsize=24, labelcolor=INK)
    ax.tick_params(axis="y", pad=7, labelsize=25)
    ax.tick_params(axis="x", pad=16)
    ax.text(lpos[0], lpos[1], letter, transform=ax.transAxes, ha="center", va="center",
            fontsize=30, fontweight="bold", color=INK)
    ax.grid(False)

for ax in (ax_a, ax_b):
    ax.set_ylim(0, 25)
    ax.set_yticks([0, 5, 10, 15, 20, 25])
    ax.tick_params(labelbottom=False)
for ax in (ax_c, ax_d):
    ax.set_ylim(-5, 25)
    ax.set_yticks([-5, 0, 5, 10, 15, 20, 25])
    ax.axhline(0, color=INK, lw=1.3, zorder=2)
for ax in (ax_b, ax_d):
    ax.tick_params(labelleft=False)
ax_a.set_yticklabels(["0", "5", "10", "15", "20", "25"])
ax_c.set_yticklabels(["-5", "0", "5", "10", "15", "20", "25"])

# titles and axis labels
fig.text(348 / W, 1 - 33 / H, "Tumbarumba", ha="center", va="center", fontsize=31,
         family="DejaVu Sans", stretch="normal", color=INK)
fig.text(963 / W, 1 - 24 / H, "Virginia Park", ha="center", va="center", fontsize=31,
         family="DejaVu Sans", stretch="normal", color=INK)
fig.text(33 / W, 1 - 291 / H, "Albedo (%)", rotation=90, ha="center", va="center",
         fontsize=21, family="DejaVu Sans", stretch="normal", color=INK)
fig.text(33 / W, 1 - 730 / H,
         r"R$_\mathregular{n}$-G (MJ m$^\mathregular{-2}$d$^\mathregular{-1}$)",
         rotation=90, ha="center", va="center", fontsize=21, family="DejaVu Sans",
         stretch="normal", color=INK)
fig.text(380 / W, 1 - 1025 / H, "Date", ha="center", va="center", fontsize=25, color=INK)
fig.text(1003 / W, 1 - 1025 / H, "Date", ha="center", va="center", fontsize=25, color=INK)

# faint grey scanning band at the left edge
band_ax = fig.add_axes([0, 1 - 240 / H, 145 / W, 15 / H], zorder=-5)
grad = np.linspace(0.84, 1.0, 256).reshape(1, -1)
band_ax.imshow(grad, aspect="auto", cmap="gray", vmin=0, vmax=1)
band_ax.axis("off")

fig.savefig("out.png", dpi=100, facecolor="white")
